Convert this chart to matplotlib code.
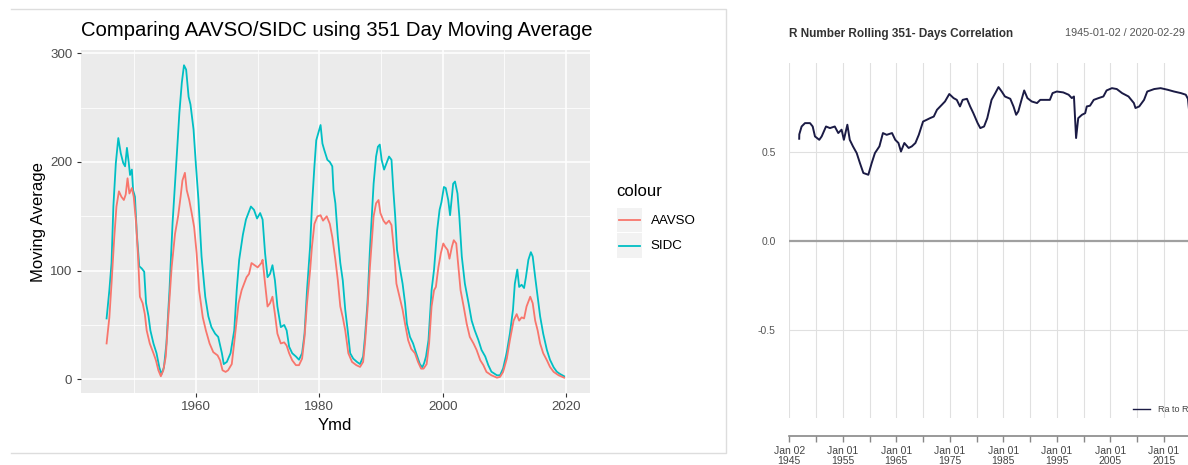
import matplotlib
matplotlib.use('Agg')
import matplotlib.pyplot as plt
from matplotlib.lines import Line2D
from matplotlib.patches import Rectangle

plt.rcParams['font.family'] = ['Liberation Sans', 'DejaVu Sans']

# 351일 이동평균
sidc_year = [1945.5, 1945.95, 1946.3, 1946.6, 1947.0, 1947.4, 1947.8, 1948.2, 1948.5, 1948.8,
             1949.1, 1949.3, 1949.6, 1949.8, 1950.1, 1950.4, 1950.8, 1951.2, 1951.6, 1951.9,
             1952.3, 1952.6, 1953.1, 1953.6, 1954.05, 1954.4, 1954.8, 1955.2, 1955.7, 1956.2,
             1956.6, 1957.0, 1957.3, 1957.7, 1958.05, 1958.4, 1958.8, 1959.1, 1959.6, 1960.0,
             1960.4, 1960.9, 1961.5, 1962.0, 1962.5, 1963.1, 1963.6, 1964.2, 1964.5, 1965.0,
             1965.6, 1966.2, 1966.6, 1967.0, 1967.6, 1968.1, 1968.5, 1968.9, 1969.4, 1969.9,
             1970.4, 1970.8, 1971.2, 1971.6, 1972.0, 1972.4, 1972.8, 1973.2, 1973.75, 1974.3,
             1974.7, 1975.1, 1975.6, 1976.2, 1976.7, 1977.2, 1977.6, 1978.0, 1978.5, 1978.8,
             1979.2, 1979.5, 1979.9, 1980.2, 1980.5, 1980.8, 1981.3, 1981.7, 1982.1, 1982.3,
             1982.6, 1983.0, 1983.4, 1983.8, 1984.2, 1984.6, 1985.0, 1985.5, 1986.1, 1986.6,
             1987.1, 1987.4, 1987.8, 1988.2, 1988.8, 1989.2, 1989.5, 1989.8, 1990.1, 1990.5,
             1990.9, 1991.3, 1991.7, 1992.0, 1992.3, 1992.6, 1993.1, 1993.5, 1993.9, 1994.2,
             1994.7, 1995.2, 1995.7, 1996.3, 1996.7, 1997.0, 1997.3, 1997.7, 1998.2, 1998.6,
             1998.9, 1999.1, 1999.5, 1999.8, 2000.2, 2000.5, 2000.9, 2001.2, 2001.5, 2001.7,
             2002.0, 2002.4, 2002.7, 2003.1, 2003.6, 2004.2, 2004.7, 2005.2, 2005.8, 2006.3,
             2006.9, 2007.4, 2007.9, 2008.8, 2009.3, 2009.8, 2010.4, 2010.9, 2011.4, 2011.7,
             2012.1, 2012.4, 2012.8, 2013.2, 2013.5, 2013.9, 2014.3, 2014.6, 2015.0, 2015.4,
             2015.8, 2016.3, 2016.9, 2017.4, 2018.0, 2018.5, 2019.0, 2019.7]
sidc_ma = [56, 82, 107, 159, 199, 222, 208, 199, 196, 213,
           199, 188, 193, 174, 168, 134, 104, 102, 99, 70,
           58, 45, 33, 24, 11, 4.6, 11, 33, 82, 144,
           180, 217, 245, 273, 289, 285, 260, 253, 230, 196,
           165, 113, 76, 58, 48, 42, 39, 24, 14, 16,
           24, 45, 82, 110, 133, 147, 153, 159, 156, 148,
           153, 147, 116, 94, 97, 105, 91, 67, 48, 50,
           45, 30, 24, 21, 18, 24, 42, 82, 122, 159,
           196, 220, 228, 234, 217, 211, 202, 200, 196, 174,
           162, 131, 107, 91, 64, 45, 24, 19, 16, 14,
           21, 39, 70, 119, 180, 205, 214, 216, 202, 193,
           199, 205, 202, 174, 150, 119, 101, 88, 70, 51,
           39, 33, 24, 14, 11, 15, 21, 36, 82, 101,
           122, 137, 156, 163, 177, 176, 165, 151, 168, 180,
           182, 171, 150, 113, 88, 70, 54, 45, 36, 27,
           21, 13, 7, 3.7, 3.7, 10, 25, 42, 64, 88,
           101, 85, 87, 84, 94, 110, 117, 113, 94, 76,
           58, 42, 27, 18, 11, 7, 5, 2.8]

aavso_year = [1945.5, 1945.95, 1946.3, 1946.75, 1947.1, 1947.5, 1947.9, 1948.3, 1948.6, 1948.9,
              1949.2, 1949.6, 1949.9, 1950.3, 1950.6, 1950.9, 1951.35, 1951.7, 1952.0, 1952.5,
              1953.1, 1953.5, 1953.9, 1954.3, 1954.7, 1955.1, 1955.5, 1956.05, 1956.6, 1957.1,
              1957.5, 1957.8, 1958.2, 1958.5, 1958.9, 1959.3, 1959.7, 1960.1, 1960.5, 1961.1,
              1961.6, 1962.2, 1962.8, 1963.5, 1963.9, 1964.3, 1964.8, 1965.2, 1965.8, 1966.3,
              1966.9, 1967.4, 1967.8, 1968.2, 1968.6, 1969.0, 1969.5, 1970.0, 1970.6, 1970.8,
              1971.2, 1971.6, 1972.0, 1972.4, 1972.8, 1973.2, 1973.75, 1974.3, 1974.7, 1975.1,
              1975.6, 1976.2, 1976.7, 1977.2, 1977.6, 1978.0, 1978.5, 1978.8, 1979.2, 1979.7,
              1980.2, 1980.6, 1981.2, 1981.7, 1982.1, 1982.6, 1983.0, 1983.4, 1983.8, 1984.2,
              1984.7, 1985.3, 1986.0, 1986.6, 1987.1, 1987.4, 1987.8, 1988.2, 1988.8, 1989.2,
              1989.6, 1989.9, 1990.4, 1990.8, 1991.3, 1991.7, 1992.1, 1992.5, 1993.0, 1993.5,
              1993.9, 1994.4, 1994.9, 1995.5, 1996.0, 1996.5, 1996.9, 1997.4, 1997.8, 1998.2,
              1998.6, 1998.9, 1999.3, 1999.7, 2000.1, 2000.4, 2000.8, 2001.1, 2001.5, 2001.8,
              2002.2, 2002.5, 2002.9, 2003.4, 2003.9, 2004.4, 2005.0, 2005.5, 2006.1, 2006.6,
              2007.1, 2007.9, 2008.8, 2009.3, 2009.8, 2010.4, 2010.9, 2011.5, 2012.0, 2012.4,
              2012.8, 2013.2, 2013.6, 2014.2, 2014.6, 2015.0, 2015.4, 2015.8, 2016.3, 2016.9,
              2017.4, 2018.0, 2018.8, 2019.7]
aavso_ma = [33, 57, 88, 131, 159, 173, 168, 165, 170, 185,
            171, 176, 168, 143, 113, 76, 70, 60, 45, 33,
            24, 17.5, 8.3, 2.8, 8.3, 21, 57, 103, 134, 150,
            168, 183, 190, 174, 165, 153, 140, 116, 82, 57,
            45, 33, 25, 22, 17.5, 8.3, 6.8, 8.3, 14, 39,
            70, 82, 88, 94, 97, 107, 105, 103, 107, 110,
            88, 67, 70, 76, 60, 42, 33, 34, 31, 24,
            17.5, 13, 13, 19, 39, 70, 100, 122, 143, 150,
            151, 146, 150, 143, 131, 110, 91, 67, 57, 45,
            24, 16, 13, 11.4, 16, 33, 64, 103, 150, 162,
            165, 153, 146, 143, 146, 142, 119, 88, 76, 64,
            51, 36, 28, 24, 16, 9.8, 9.8, 14, 33, 67,
            82, 85, 103, 116, 125, 122, 119, 111, 122, 128,
            125, 107, 82, 67, 51, 39, 33, 27, 17.5, 13,
            6.8, 3.7, 1.5, 2.2, 6.8, 19, 36, 54, 60, 54,
            57, 56, 67, 76, 70, 54, 45, 33, 24, 17.5,
            11.4, 6.8, 3.7, 1.5]

# 351일 이동 상관계수
corr_year = [1946.85, 1946.87, 1947.3, 1947.93, 1948.87, 1949.37, 1949.8, 1950.6, 1951.05, 1951.86,
             1952.6, 1953.5, 1954.15, 1954.77, 1955.2, 1955.85, 1956.3, 1956.9, 1957.6, 1958.2,
             1958.84, 1959.77, 1960.4, 1961.0, 1961.84, 1962.5, 1963.2, 1964.2, 1964.8, 1965.4,
             1965.87, 1966.5, 1967.3, 1967.9, 1968.57, 1969.2, 1970.0, 1970.7, 1971.3, 1972.0,
             1972.6, 1973.5, 1974.1, 1974.9, 1975.7, 1976.3, 1976.9, 1977.4, 1978.2, 1978.8,
             1979.4, 1980.2, 1980.7, 1981.4, 1982.0, 1982.8, 1983.5, 1984.1, 1984.7, 1985.3,
             1986.3, 1986.9, 1987.4, 1987.8, 1988.4, 1988.9, 1989.5, 1990.3, 1991.3, 1991.9,
             1992.8, 1993.7, 1994.2, 1995.0, 1996.2, 1997.2, 1997.8, 1998.2, 1998.6, 1999.0,
             1999.7, 2000.3, 2000.6, 2001.2, 2001.9, 2002.8, 2003.7, 2004.3, 2005.3, 2006.2,
             2007.2, 2008.4, 2009.4, 2009.7, 2010.4, 2011.3, 2011.9, 2013.2, 2014.4, 2015.7,
             2016.9, 2018.2, 2019.1, 2019.5, 2019.7, 2020.1]
corr_val = [0.575, 0.600, 0.644, 0.663, 0.663, 0.644, 0.588, 0.569, 0.588, 0.644,
            0.635, 0.644, 0.607, 0.626, 0.569, 0.654, 0.569, 0.532, 0.494, 0.438,
            0.382, 0.372, 0.438, 0.494, 0.532, 0.607, 0.597, 0.607, 0.569, 0.551,
            0.503, 0.551, 0.523, 0.532, 0.551, 0.597, 0.672, 0.682, 0.691, 0.700,
            0.738, 0.766, 0.785, 0.827, 0.804, 0.794, 0.757, 0.794, 0.800, 0.757,
            0.719, 0.663, 0.635, 0.644, 0.691, 0.794, 0.832, 0.866, 0.841, 0.813,
            0.800, 0.757, 0.710, 0.729, 0.794, 0.847, 0.804, 0.785, 0.776, 0.794,
            0.794, 0.794, 0.832, 0.841, 0.836, 0.823, 0.804, 0.813, 0.579, 0.691,
            0.710, 0.719, 0.757, 0.761, 0.794, 0.804, 0.813, 0.847, 0.860, 0.855,
            0.832, 0.813, 0.776, 0.748, 0.757, 0.794, 0.841, 0.855, 0.860, 0.851,
            0.841, 0.832, 0.823, 0.800, 0.740, 0.720]

corr_ticks = [1945, 1950, 1955, 1960, 1965, 1970, 1975, 1980, 1985, 1990, 1995, 2000, 2005, 2010, 2015, 2020]
corr_tick_labels = ['Jan 02\n1945', '', 'Jan 01\n1955', '', 'Jan 01\n1965', '', 'Jan 01\n1975', '',
                    'Jan 01\n1985', '', 'Jan 01\n1995', '', 'Jan 01\n2005', '', 'Jan 01\n2015', '']

W, H = 1188, 465
fig = plt.figure(figsize=(W / 100, H / 100), dpi=100)


def fx(x):
    return x / W


def fy(y):
    return 1 - y / H


# ---- 왼쪽: ggplot 스타일 ----
ax = fig.add_axes([fx(80.5), fy(393.3), (590 - 80.5) / W, (393.3 - 50) / H])
ax.set_facecolor('#EBEBEB')
for s in ax.spines.values():
    s.set_visible(False)
ax.set_xlim(1941.27, 2023.89)
ax.set_ylim(-12.88, 303.04)
ax.set_xticks([1960, 1980, 2000, 2020])
ax.set_xticks([1950, 1970, 1990, 2010], minor=True)
ax.set_yticks([0, 100, 200, 300])
ax.set_yticks([50, 150, 250], minor=True)
ax.grid(which='major', color='white', lw=1.1)
ax.grid(which='minor', color='white', lw=0.55)
ax.set_axisbelow(True)
ax.tick_params(which='major', length=2.7, width=0.8, color='#333333', labelcolor='#4D4D4D',
               labelsize=9.6, pad=3.2)
ax.tick_params(which='minor', length=0)

ax.plot(sidc_year, sidc_ma, color='#00BFC4', lw=1.3)
ax.plot(aavso_year, aavso_ma, color='#F8766D', lw=1.3)

fig.text(fx(81), fy(36), 'Comparing AAVSO/SIDC using 351 Day Moving Average',
         fontsize=14.6, ha='left', va='baseline')
fig.text(fx(335), fy(425), 'Ymd', fontsize=12, ha='center', va='center')
fig.text(fx(38), fy(221.6), 'Moving Average', fontsize=12, ha='center', va='center', rotation=90)

# 범례
fig.text(fx(616), fy(191.7), 'colour', fontsize=12, ha='left', va='center')
for i, (name, col) in enumerate([('AAVSO', '#F8766D'), ('SIDC', '#00BFC4')]):
    y0 = 207.7 + i * 25.8
    fig.add_artist(Rectangle((fx(616.7), fy(y0 + 24.6)), 25 / W, 24.6 / H,
                             transform=fig.transFigure, facecolor='#F2F2F2', edgecolor='none'))
    fig.add_artist(Line2D([fx(618.5), fx(640)], [fy(y0 + 12.3)] * 2, transform=fig.transFigure,
                          color=col, lw=1.3))
    fig.text(fx(650.7), fy(y0 + 12.8), name, fontsize=9.6, ha='left', va='center')

# 왼쪽 그림 테두리
fig.add_artist(Line2D([fx(11), fx(726), fx(726), fx(11)], [fy(9.3), fy(9.3), fy(452.7), fy(452.7)],
                      transform=fig.transFigure, color='#DDDDDD', lw=1))

# ---- 오른쪽: xts 스타일 ----
ax2 = fig.add_axes([fx(789.3), fy(418.3), (1191.5 - 789.3) / W, (418.3 - 63.3) / H])
for k, s in ax2.spines.items():
    s.set_visible(k == 'bottom')
ax2.spines['bottom'].set_position(('outward', 12.5))
ax2.spines['bottom'].set_color('#888888')
ax2.spines['bottom'].set_linewidth(1.2)
ax2.set_xlim(1945.0, 2020.17)
ax2.set_ylim(-1, 1)
ax2.set_xticks(corr_ticks)
ax2.set_xticklabels(corr_tick_labels, linespacing=1.05)
ax2.set_yticks([-0.5, 0.0, 0.5])
ax2.set_yticklabels(['-0.5', '0.0', '0.5'])
ax2.tick_params(axis='x', length=4, width=1, color='#888888', labelcolor='#444444',
                labelsize=7.5, pad=3.2)
ax2.tick_params(axis='y', length=0, labelcolor='#555555', labelsize=7.5, pad=9.8)
for t in corr_ticks:
    ax2.axvline(t, color='#E0E0E0', lw=0.8, zorder=0)
for v in [-0.5, 0.5]:
    ax2.axhline(v, color='#E0E0E0', lw=0.8, zorder=0)
ax2.axhline(0, color='#A0A0A0', lw=1.6, zorder=1)
ax2.plot(corr_year, corr_val, color='#1B1B45', lw=1.4, zorder=3)

fig.text(fx(789.3), fy(33.5), 'R Number Rolling 351- Days Correlation', fontsize=8.5,
         fontweight='bold', color='#333333', ha='left', va='center')
fig.text(fx(1185), fy(33.5), '1945-01-02 / 2020-02-29', fontsize=7.8, color='#555555',
         ha='right', va='center')
fig.add_artist(Line2D([fx(1133), fx(1150)], [fy(409)] * 2, transform=fig.transFigure,
                      color='#1B1B45', lw=1))
fig.text(fx(1157.7), fy(409), 'Ra to R', fontsize=6.5, color='#444444', ha='left', va='center')

fig.savefig('out.png', dpi=100)
